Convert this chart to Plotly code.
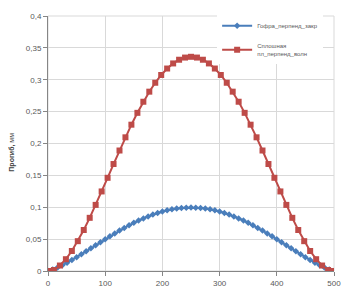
import plotly.graph_objects as go

# ---- data ----
blue_name = "Гофра_перпенд_закр"
red_name = "Сплошная<br>пл_перпенд_волн"

blue_x = [0, 8.3, 16.7, 25, 33.3, 41.7, 50, 58.3, 66.7, 75, 83.3, 91.7, 100, 108.3, 116.7,
          125, 133.3, 141.7, 150, 158.3, 166.7, 175, 183.3, 191.7, 200, 208.3, 216.7, 225,
          233.3, 241.7, 250, 258.3, 266.7, 275, 283.3, 291.7, 300, 308.3, 316.7, 325, 333.3,
          341.7, 350, 358.3, 366.7, 375, 383.3, 391.7, 400, 408.3, 416.7, 425, 433.3, 441.7,
          450, 458.3, 466.7, 475, 483.3, 491.7, 500]
blue_y = [0, 0.0022, 0.0053, 0.0089, 0.0129, 0.0172, 0.0216, 0.0262, 0.0309, 0.0356,
          0.0404, 0.0452, 0.0499, 0.0545, 0.0590, 0.0634, 0.0676, 0.0717, 0.0755, 0.0792,
          0.0825, 0.0856, 0.0885, 0.0910, 0.0932, 0.0951, 0.0967, 0.0979, 0.0988, 0.0993,
          0.0995,
          0.0993, 0.0988, 0.0979, 0.0967, 0.0951, 0.0932, 0.0910, 0.0885, 0.0856, 0.0825,
          0.0792, 0.0755, 0.0717, 0.0676, 0.0634, 0.0590, 0.0545, 0.0499, 0.0452, 0.0404,
          0.0356, 0.0309, 0.0262, 0.0216, 0.0172, 0.0129, 0.0089, 0.0053, 0.0022, 0]

red_x = [0, 10.4, 20.8, 31.3, 41.7, 52.1, 62.5, 72.9, 83.3, 93.8, 104.2, 114.6, 125, 135.4,
         145.8, 156.3, 166.7, 177.1, 187.5, 197.9, 208.3, 218.8, 229.2, 239.6, 250, 260.4,
         270.8, 281.3, 291.7, 302.1, 312.5, 322.9, 333.3, 343.8, 354.2, 364.6, 375, 385.4,
         395.8, 406.3, 416.7, 427.1, 437.5, 447.9, 458.3, 468.8, 479.2, 489.6, 500]
red_y = [0, 0.0015, 0.0086, 0.0185, 0.0314, 0.0468, 0.0643, 0.0834, 0.1037, 0.1248,
         0.1462, 0.1678, 0.1890, 0.2097, 0.2295, 0.2481, 0.2655, 0.2813, 0.2953, 0.3075,
         0.3176, 0.3256, 0.3314, 0.3348, 0.3360,
         0.3348, 0.3314, 0.3256, 0.3176, 0.3075, 0.2953, 0.2813, 0.2655, 0.2481, 0.2295,
         0.2097, 0.1890, 0.1678, 0.1462, 0.1248, 0.1037, 0.0834, 0.0643, 0.0468, 0.0314,
         0.0185, 0.0086, 0.0015, 0]

x_ticks = [0, 100, 200, 300, 400, 500]
y_ticks = [0, 0.05, 0.1, 0.15, 0.2, 0.25, 0.3, 0.35, 0.4]
y_title = "<b>Прогиб,</b> мм"

BLUE = "#4a7ebb"
RED = "#be4b48"
GRID = "#d9d9d9"
AXIS = "#868686"
TXT = "#595959"

fig = go.Figure()
fig.add_trace(go.Scatter(
    x=blue_x, y=blue_y, name=blue_name, mode="lines+markers", legendgroup="g1",
    line=dict(color=BLUE, width=2),
    marker=dict(symbol="diamond", size=5, color=BLUE),
))
fig.add_trace(go.Scatter(
    x=red_x, y=red_y, name=red_name, mode="lines+markers", legendgroup="g2",
    line=dict(color=RED, width=2),
    marker=dict(symbol="square", size=6, color=RED),
))

fig.update_layout(
    width=345, height=291,
    margin=dict(l=48, r=11, t=11, b=20),
    paper_bgcolor="white", plot_bgcolor="white",
    separators=", ",
    font=dict(family="Liberation Sans, Arial, sans-serif", size=8, color=TXT),
    showlegend=True,
    legend=dict(
        x=0.962, y=1.019, xanchor="right", yanchor="top",
        bgcolor="white", borderwidth=0,
        font=dict(size=6, color=TXT),
        itemwidth=30, tracegroupgap=5,
    ),
    annotations=[dict(
        text=y_title, xref="paper", yref="paper", x=-0.125, y=0.465,
        xanchor="center", yanchor="middle", textangle=-90, showarrow=False,
        font=dict(size=7, color="#404040"),
    )],
    shapes=[dict(
        type="rect", xref="paper", yref="paper", x0=0, x1=1, y0=0, y1=1,
        line=dict(color=GRID, width=1), layer="below",
    )],
)
fig.update_xaxes(
    range=[0, 500], tickvals=x_ticks, showgrid=True, gridcolor=GRID, gridwidth=1,
    showline=True, linecolor=AXIS, linewidth=1, mirror=False,
    ticks="outside", ticklen=4, tickcolor=AXIS, zeroline=False,
    tickfont=dict(size=8, color=TXT), automargin=False, ticklabeloverflow="allow",
)
fig.update_yaxes(
    range=[0, 0.4], tickvals=y_ticks, showgrid=True, gridcolor=GRID, gridwidth=1,
    showline=True, linecolor=AXIS, linewidth=1,
    ticks="outside", ticklen=4, tickcolor=AXIS, zeroline=False,
    tickfont=dict(size=8, color=TXT), automargin=False, ticklabeloverflow="allow",
)

fig.write_html("out.html", config={"displayModeBar": False},
               post_script="document.body.style.margin='0';")
